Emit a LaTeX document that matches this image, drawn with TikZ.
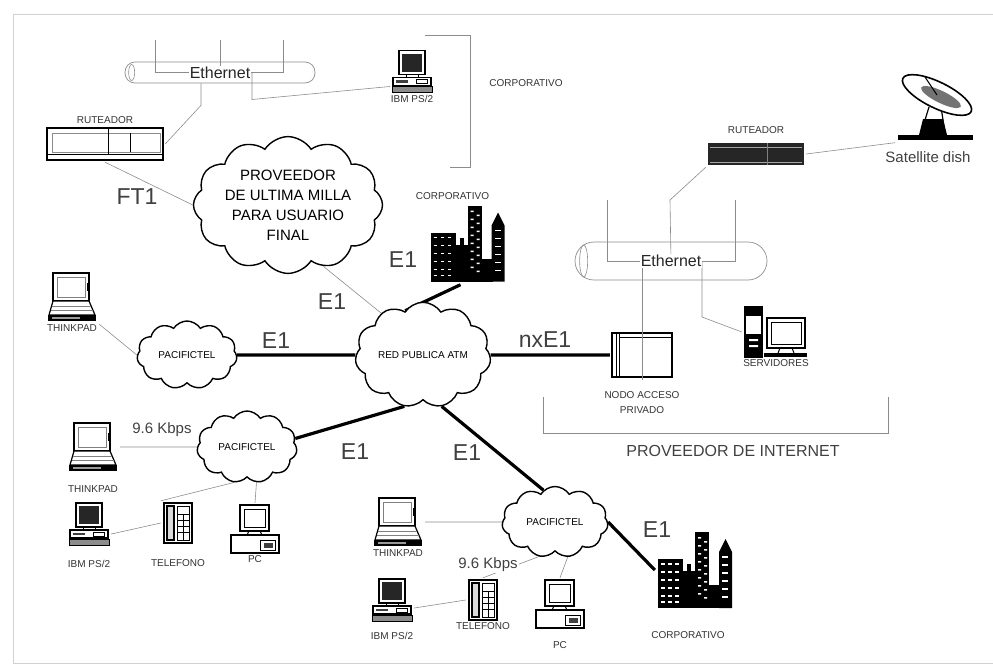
\documentclass[tikz,border=0pt]{standalone}
\usepackage{fontspec}
\setmainfont{Liberation Sans}
\usetikzlibrary{shapes.symbols, calc, backgrounds}

\tikzset{
    caja/.style 2 args={inner sep=0pt, minimum width=#1, minimum height=#2, label distance=9.5pt},
    every label/.style={font=\fontsize{10}{15}\selectfont, inner sep=0pt, text=black!80},
    etiq/.style={font=\fontsize{10}{15}\selectfont, inner sep=0pt, text=black!80},
    grande/.style={font=\fontsize{23}{26}\selectfont, inner sep=0pt, text=black!75},
    medio/.style={font=\fontsize{15}{18}\selectfont, inner sep=0pt, text=black!75},
    eth/.style={font=\fontsize{16}{18}\selectfont, fill=white, inner sep=1pt, text=black!85},
    nube/.style={cloud, cloud puffs=11, cloud puff arc=115, draw, line width=1.4pt,
        fill=white, inner sep=0pt, font=\fontsize{10}{12}\selectfont},
    tubo/.style={draw=black!45, line width=0.7pt, rounded corners=#1},
    enlace/.style={draw=black!45, line width=0.6pt},
    troncal/.style={line width=3.2pt},
    marco/.style={draw=black!18, line width=0.8pt},
    portatil/.style={caja={54pt}{54pt}, path picture={
        \begin{scope}[shift={(path picture bounding box.center)}]
            \draw[line width=1.4pt, fill=white] (-19,-24) rectangle (17,4);
            \draw[black!50, line width=0.6pt] (-15,-20) rectangle (13,0);
            \draw[line width=0.8pt] (15,-14) -- (15,-6);
            \draw[line width=1.2pt, fill=white] (-19,4) -- (-23,18) -- (23,18) -- (17,4) -- cycle;
            \draw[black!50, line width=0.5pt] (-20,9) -- (19,9) (-21,13.5) -- (21,13.5);
            \fill (-24,18) rectangle (24,24);
            \fill[black!40] (-20,20) rectangle (8,21.5);
        \end{scope}}},
    ps2/.style={caja={44pt}{46pt}, path picture={
        \begin{scope}[shift={(path picture bounding box.center)}]
            \draw[line width=1.3pt, fill=white] (-13,-21) rectangle (13,3);
            \fill[black!85] (-10,-18) rectangle (10,0);
            \draw[line width=1pt] (-6,3) rectangle (6,6);
            \draw[line width=1.3pt, fill=white] (-19,6) rectangle (19,14);
            \fill[black!75] (-16,8.5) rectangle (-4,11);
            \draw[line width=0.6pt] (4,8) rectangle (15,12);
            \draw[line width=1pt, fill=black!45] (-20,15) rectangle (20,21);
        \end{scope}}},
    telefono/.style={caja={34pt}{44pt}, path picture={
        \begin{scope}[shift={(path picture bounding box.center)}]
            \draw[line width=1.4pt, fill=white] (-14,-20) rectangle (14,20);
            \draw[line width=1.2pt, fill=black!15] (-11,-17) rectangle (-4,17);
            \draw[line width=0.6pt] (-1,-17) rectangle (11,17);
            \foreach \y in {-9,-3,3,9}
                \draw[line width=0.5pt] (-1,\y) -- (11,\y);
            \draw[line width=0.5pt] (5,-9) -- (5,17);
        \end{scope}}},
    pc/.style={caja={54pt}{52pt}, path picture={
        \begin{scope}[shift={(path picture bounding box.center)}]
            \draw[line width=1.4pt, fill=white] (-15,-24) rectangle (14,2);
            \draw[line width=0.6pt] (-11,-20) rectangle (10,-2);
            \draw[line width=1pt] (-6,2) -- (-8,6) (5,2) -- (7,6);
            \draw[line width=1.4pt, fill=white] (-24,6) rectangle (24,24);
            \draw[line width=0.9pt] (5,11) rectangle (20,21);
            \fill[black!75] (9,14) rectangle (18,19);
        \end{scope}}},
    ciudad/.style={caja={80pt}{82pt}, path picture={
        \begin{scope}[shift={(path picture bounding box.center)}]
            \fill (-37,-11) rectangle (-12,38);
            \fill (-12,1) rectangle (1,38);
            \fill (-8,-6) rectangle (-4,1);
            \fill (0,-38) rectangle (14,38);
            \fill (14,15) rectangle (25,38);
            \fill (24,38) -- (24,-18) -- (30.5,-31) -- (37,-18) -- (37,38) -- cycle;
            \foreach \x in {-34,-27,-20}
                \foreach \y in {-7,1,9,17,25,31}
                    \fill[white] (\x,\y) rectangle ++(3.5,1.5);
            \foreach \y in {-33,-25,-17,-9,-1,7,15,23}
                \fill[white] (3,\y) rectangle ++(3,1.5) (9,\y+4) rectangle ++(3,1.5);
            \foreach \y in {-14,-6,2,10,18,26}
                \fill[white] (27,\y) rectangle ++(6,1.5);
        \end{scope}}},
    servidor/.style={caja={68pt}{54pt}, path picture={
        \begin{scope}[shift={(path picture bounding box.center)}]
            \draw[line width=1.4pt, fill=white] (-31,-25) rectangle (-14,25);
            \fill (-31,-25) rectangle (-14,-16);
            \fill (-31,2) rectangle (-14,25);
            \fill[white] (-27,-12) rectangle (-18,-10) (-27,7) rectangle (-18,9) (-27,13) rectangle (-18,15);
            \draw[line width=1.4pt, fill=white] (-9,-14) rectangle (29,16);
            \draw[line width=0.6pt] (-5,-10) rectangle (25,12);
            \draw[line width=1pt] (4,16) -- (2,21) (16,16) -- (18,21);
            \fill (-12,21) rectangle (31,25);
        \end{scope}}},
    ruteador/.style={caja={120pt}{36pt}, path picture={
        \begin{scope}[shift={(path picture bounding box.center)}]
            \draw[line width=1.4pt, fill=white] (-58,-16) rectangle (58,16);
            \draw[black!45, line width=0.6pt] (-53,-11) rectangle (55,8);
            \draw[line width=0.8pt] (3,-16) -- (3,10) (25,-11) -- (25,8) (-58,10) -- (58,10);
        \end{scope}}},
    ruteadorN/.style={caja={100pt}{26pt}, path picture={
        \begin{scope}[shift={(path picture bounding box.center)}]
            \fill[black!85] (-48,-11) rectangle (48,11);
            \draw[black!35, line width=0.6pt] (-46,-7) -- (46,-7) (-46,8) -- (46,8);
            \draw[black!50, line width=0.8pt] (11,-11) -- (11,11);
        \end{scope}}},
    antena/.style={caja={80pt}{71pt}, path picture={
        \begin{scope}[shift={(path picture bounding box.center)}]
            \fill (-37,28) rectangle (38,33);
            \fill (-12,12) -- (8,12) -- (12,28) -- (-16,28) -- cycle;
            \draw[line width=1.2pt] (-6,0) -- (-14,26) (6,0) -- (10,26);
            \draw[line width=1.6pt, fill=white] (2,-12) ellipse [x radius=38, y radius=13, rotate=-26];
            \fill[black!55] (6,-10) ellipse [x radius=22, y radius=6, rotate=-26];
            \draw[line width=1pt] (2,-12) -- (-10,-30);
        \end{scope}}},
    nodo/.style={caja={64pt}{49pt}, path picture={
        \begin{scope}[shift={(path picture bounding box.center)}]
            \draw[line width=1.1pt, fill=white] (-30,-22) rectangle (30,22);
            \draw[line width=0.6pt] (-26,-22) -- (-26,22) (-23,-22) -- (-23,22) (-23,-18) -- (30,-18);
        \end{scope}}},
}

\begin{document}
\begin{tikzpicture}[x=1pt, y=-1pt]
    \useasboundingbox (0,0) rectangle (993,670);
    \draw[marco] (993,14) -- (13,14) -- (13,663) -- (993,663);

    \node[tubo=10pt, minimum width=190pt, minimum height=21pt] at (220,72.5) (tuboA) {};
    \draw[enlace] ($(tuboA.west)+(7,0)$) ellipse [x radius=3, y radius=8];
    \node[ruteador, label={[label distance=2.4pt]above:RUTEADOR}] at (105,144) (rutA) {};
    \node[ps2, label=below:IBM PS/2] at (412,71.5) (ibmA) {};
    \node[nube, cloud puffs=12, aspect=1.55, minimum width=170pt, minimum height=108pt,
        font=\fontsize{15}{20}\selectfont, align=center] at (288,205) (milla)
        {PROVEEDOR\\DE ULTIMA MILLA\\PARA USUARIO\\FINAL};
    \node[ciudad, label={[xshift=-15pt, label distance=2.9pt]above:CORPORATIVO}] at (467.5,243.5) (ciudadA) {};
    \node[portatil, label=below:THINKPAD] at (72,297) (tpA) {};
    \node[nube, aspect=1.47, minimum width=100pt, minimum height=68pt] at (187,355) (pacL) {PACIFICTEL};
    \node[nube, aspect=1.42, minimum width=133pt, minimum height=94pt] at (423,355) (atm) {RED PUBLICA ATM};

    \node[tubo=19pt, minimum width=192pt, minimum height=38pt] at (671,261) (tuboB) {};
    \draw[enlace] ($(tuboB.west)+(9,0)$) ellipse [x radius=4, y radius=16];
    \node[ruteadorN, label={[label distance=7.4pt]above:RUTEADOR}] at (756,154) (rutB) {};
    \node[antena, label={[medio, xshift=-7pt, label distance=9pt]below:Satellite dish}] at (935,107) (antena) {};
    \node[nodo, label={[align=center, label distance=11.9pt]below:NODO ACCESO\\PRIVADO}] at (642,355) (nodoA) {};
    \node[servidor, label=below:SERVIDORES] at (776,332) (srv) {};

    \node[nube, aspect=1.39, minimum width=100pt, minimum height=72pt] at (247,447) (pacM) {PACIFICTEL};
    \node[portatil, label={[label distance=11.4pt]below:THINKPAD}] at (93,447) (tpB) {};
    \node[ps2, label={[label distance=12.4pt]below:IBM PS/2}] at (89,524) (ibmB) {};
    \node[telefono, label={[label distance=14.4pt]below:TELEFONO}] at (178,523) (telB) {};
    \node[pc, label=below:PC] at (255,529) (pcB) {};

    \node[nube, aspect=1.49, minimum width=106pt, minimum height=71pt] at (555,522) (pacR) {PACIFICTEL};
    \node[portatil, label=below:THINKPAD] at (398,522) (tpC) {};
    \node[ps2, label={[label distance=8.4pt]below:IBM PS/2}] at (392,600) (ibmC) {};
    \node[telefono, label=below:TELEFONO] at (483,600) (telC) {};
    \node[pc, label={[label distance=11.4pt]below:PC}] at (560,604) (pcC) {};
    \node[ciudad, label={[xshift=-7pt, label distance=20.4pt]below:CORPORATIVO}] at (695,570) (ciudadB) {};

    \begin{pgfonlayer}{background}
        \draw[enlace] ($(tuboA.center)+(-65,-33)$) |- ($(tuboA.center)+(63,0)$) -- ++(0,-33);
        \draw[enlace] ($(tuboA.center)+(0,-33)$) -- (tuboA.center);
        \draw[enlace] (rutA.east) -- ($(tuboA.south)+(-19,22)$) -- ($(tuboA.south)+(-19,0)$);
        \draw[enlace] ([yshift=-15pt]ibmA.west) -- ($(tuboA.center)+(32,27)$) -- ($(tuboA.center)+(32,0)$);
        \draw[enlace] (rutA.south) -- (milla.west);
        \draw[enlace] (milla.-60) -- (atm.135);
        \draw[enlace] (tpA.south east) -- (pacL.west);

        \draw[enlace] ($(tuboB.center)+(-64,-61)$) |- ($(tuboB.center)+(64,0)$) -- ++(0,-61);
        \draw[enlace] (rutB.south west) -- ($(tuboB.center)+(-1,-61)$) -- (tuboB.center);
        \draw[enlace] ($(tuboB.center)+(31,0)$) -- ++(0,56) -- (srv.west);
        \draw[enlace] (rutB.east) -- (antena.south west);

        \draw[enlace] (tpB.east) -- (pacM.west);
        \draw[enlace] ([yshift=-10pt]ibmB.east) -- (telB.west);
        \draw[enlace] (telB.north west) -- (pacM.250);
        \draw[enlace] (pcB.north) -- (pacM.285);

        \draw[enlace] (tpC.east) -- (pacR.west);
        \draw[enlace] ([yshift=-8pt]ibmC.east) -- (telC.west);
        \draw[enlace] (telC.north) -- (pacR.245);
        \draw[enlace] (pcC.north) -- (pacR.290);

        \draw[troncal] (pacL.east) -- (atm.west);
        \draw[troncal] (atm.east) -- (nodoA.west);
        \draw[troncal] (atm.112) -- ([xshift=-7pt]ciudadA.south);
        \draw[troncal] (atm.-110) -- (pacM.10);
        \draw[troncal] (atm.-70) -- (pacR.110);
        \draw[troncal] (pacR.east) -- (ciudadB.west);
    \end{pgfonlayer}

    \draw[enlace] (tuboB.center -| nodoA.center) -- (nodoA.south);
    \node[eth] at (tuboA.center) (ethA) {Ethernet};
    \node[eth] at (tuboB.center) (ethB) {Ethernet};

    \draw[enlace] (425,35) -- (470,35) -- (470,167) -- (450,167);
    \node[etiq] at (526,83) (corpA) {CORPORATIVO};
    \draw[enlace] (543,397) -- (543,433) -- (888,433) -- (888,397);
    \node[font=\fontsize{16}{18}\selectfont, text=black!75] at (733,451) (provInt) {PROVEEDOR DE INTERNET};

    \node[grande] at (137,197) (ft1) {FT1};
    \node[grande] at (403,260) (e1a) {E1};
    \node[grande] at (332,302) (e1b) {E1};
    \node[grande] at (276,341) (e1c) {E1};
    \node[grande] at (545,340) (nxe1) {nxE1};
    \node[grande] at (355,452) (e1d) {E1};
    \node[grande] at (467,453) (e1e) {E1};
    \node[grande] at (657,530) (e1f) {E1};
    \node[medio] at (162,430) (kbpsA) {9.6 Kbps};
    \node[medio, fill=white, inner sep=1pt] at (488,565) (kbpsB) {9.6 Kbps};
\end{tikzpicture}
\end{document}
